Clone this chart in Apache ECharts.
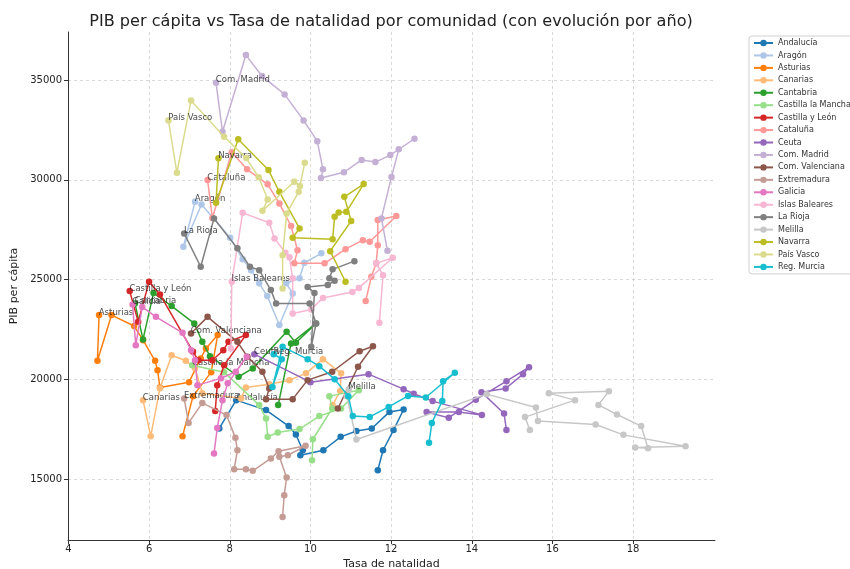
<!DOCTYPE html>
<html>
<head>
<meta charset="utf-8">
<script src="https://cdn.jsdelivr.net/npm/echarts@6/dist/echarts.min.js"></script>
<style>html,body{margin:0;padding:0;background:#fff}#c{width:850px;height:569px}</style>
</head>
<body>
<div id="c"></div>
<script>
const categories = ["Andalucía","Aragón","Asturias","Canarias","Cantabria","Castilla la Mancha","Castilla y León","Cataluña","Ceuta","Com. Madrid","Com. Valenciana","Extremadura","Galicia","Islas Baleares","La Rioja","Melilla","Navarra","País Vasco","Reg. Murcia"];

// [tasa de natalidad, PIB per cápita]
const andalucia = [[7.74,17550],[8.16,18970],[8.90,18470],[9.46,17670],[9.64,17250],[9.81,16460],[9.75,16210],[10.32,16460],[10.75,17130],[11.14,17420],[11.52,17550],[11.96,18380],[12.31,18500],[12.06,17470],[11.80,16460],[11.67,15460]];
const aragon = [[7.14,28900],[6.85,26650],[7.30,28770],[8.01,27100],[8.32,26020],[8.53,25480],[8.73,24820],[8.93,24180],[9.23,22730],[9.56,24310],[9.40,24820],[9.73,25070],[9.85,25850],[10.27,26320]];
const asturias = [[4.76,23230],[4.72,20940],[5.07,23230],[5.63,22680],[5.85,21970],[6.15,20940],[6.21,20470],[6.27,19600],[6.99,19870],[7.28,21060],[7.41,21560],[7.70,22230],[7.54,20370],[7.09,19170],[6.83,17160]];
const canarias = [[5.85,18970],[6.04,17160],[6.27,19570],[6.56,21220],[6.91,20940],[7.14,20570],[7.32,19320],[8.28,19050],[8.40,19600],[8.98,19770],[9.48,19970],[9.89,20310],[10.31,21020],[10.76,20310],[10.74,19430],[10.55,18720]];
const cantabria = [[5.65,23810],[5.85,22010],[6.11,24340],[6.56,23680],[7.12,22810],[7.32,21890],[7.51,21170],[8.22,20140],[8.57,20560],[9.41,22390],[9.64,21840],[10.14,22810],[9.52,21810],[9.20,18720]];
const castillaLaMancha = [[7.07,20720],[7.86,20370],[8.73,18720],[8.90,18050],[8.94,17130],[9.19,17350],[9.73,17520],[10.22,18170],[10.76,18550],[11.20,19470],[10.47,19170],[10.54,18550],[10.06,17010],[10.04,15960]];
const castillaYLeon = [[5.52,24430],[5.73,22890],[6.00,24900],[6.27,24260],[7.09,21390],[7.22,20970],[7.57,20970],[7.84,21470],[7.97,21890],[8.40,22230],[7.86,20720],[7.69,19720],[7.64,18420]];
const cataluna = [[7.45,29990],[7.57,28090],[8.05,31380],[8.43,30530],[8.94,29780],[9.23,28820],[9.52,27690],[9.68,26480],[9.60,25820],[10.35,25820],[10.87,26530],[11.30,26980],[11.47,26900],[12.13,28190],[11.67,27990],[11.67,26730],[11.63,25820],[11.51,25150],[11.37,23930]];
const ceuta = [[8.61,21270],[10.00,19870],[11.44,20270],[12.31,19520],[12.56,19290],[13.03,18920],[14.25,18230],[13.68,18380],[12.88,18370],[13.43,18090],[14.10,18990],[14.86,19920],[15.42,20620],[15.27,20270],[14.84,19550],[14.24,19370],[14.80,18300],[14.86,17470]];
const madrid = [[7.66,34870],[7.82,32410],[8.40,36250],[8.80,35200],[9.36,34280],[9.83,32980],[10.17,31940],[10.31,30530],[10.26,30090],[10.83,30380],[11.27,31000],[11.61,30890],[11.98,31240],[12.58,32060],[12.19,31530],[12.01,30150],[11.76,28070],[11.91,26450]];
const valenciana = [[7.04,22310],[7.45,23140],[8.19,21890],[8.44,21140],[8.81,20390],[8.98,19550],[8.90,19020],[9.56,19020],[9.93,19970],[10.54,20390],[11.22,21420],[11.55,21670],[11.18,20640],[10.68,18550]];
const extremadura = [[6.87,19050],[6.98,17830],[7.32,18830],[7.92,18220],[8.14,17080],[8.19,16460],[8.11,15510],[8.40,15510],[8.57,15430],[9.02,16050],[9.21,16410],[9.88,16680],[9.44,16210],[9.23,16130],[9.41,15100],[9.35,14210],[9.31,13120]];
const galicia = [[5.59,23760],[5.67,21720],[5.83,23640],[6.17,23140],[6.83,22340],[7.04,21470],[7.14,20970],[7.20,19720],[7.78,20060],[8.15,20390],[8.42,21140],[7.95,19810],[7.82,18970],[7.69,17570],[7.61,16300]];
const baleares = [[8.03,21560],[8.05,24900],[8.32,28350],[8.98,27850],[9.11,27070],[9.38,26350],[9.48,26120],[9.56,25070],[9.56,23310],[10.02,23510],[10.31,24090],[11.04,24390],[11.20,24590],[12.04,26100],[11.63,25820],[11.80,25230],[11.71,22840]];
const laRioja = [[6.87,27320],[7.28,25650],[7.61,28070],[8.19,26570],[8.50,25650],[8.73,25480],[9.02,24480],[9.15,23810],[9.98,23810],[10.14,22810],[10.02,21640],[10.10,24340],[9.93,24640],[10.43,24730],[10.60,24950],[10.47,25070],[10.55,25520],[11.09,25930]];
const melilla = [[10.95,19500],[10.90,19170],[11.14,17000],[14.37,19270],[15.59,18600],[15.64,17920],[17.07,17750],[17.76,17230],[19.30,16660],[18.05,16600],[18.37,16560],[18.20,17670],[17.60,18250],[17.14,18730],[17.40,19420],[15.91,19320],[16.56,18970],[15.32,18120],[15.44,17470]];
const navarra = [[7.72,31080],[7.66,28850],[8.21,32030],[8.96,30490],[9.23,29400],[9.73,27570],[9.56,27100],[10.55,27030],[10.60,28150],[10.70,28370],[10.89,28400],[11.32,29790],[10.84,29150],[11.01,27940],[10.49,26430],[10.87,24900]];
const paisVasco = [[6.48,32980],[6.69,30360],[7.04,33980],[7.86,32160],[8.41,31090],[8.72,30130],[8.94,29020],[8.81,28450],[9.60,29910],[9.74,29690],[9.86,30860],[9.71,29400],[9.41,28320],[9.31,26230],[9.31,24560]];
const murcia = [[9.09,21270],[9.29,21020],[9.06,19630],[9.31,21640],[9.93,21020],[10.22,20670],[10.60,20020],[10.94,19170],[11.05,18170],[11.47,18130],[11.94,18630],[12.42,19180],[12.86,19100],[13.58,20340],[13.29,19920],[13.27,18930],[13.01,17830],[12.94,16830]];

const seriesData = [andalucia, aragon, asturias, canarias, cantabria, castillaLaMancha, castillaYLeon, cataluna, ceuta, madrid, valenciana, extremadura, galicia, baleares, laRioja, melilla, navarra, paisVasco, murcia];
// index of the point carrying the region's name
const labelIndex = [1,0,0,0,0,0,0,0,0,0,0,0,0,1,0,0,0,0,0];

const xTicks = [4, 6, 8, 10, 12, 14, 16, 18];
const yTicks = [15000, 20000, 25000, 30000, 35000];

const palette = ['#1f77b4','#aec7e8','#ff7f0e','#ffbb78','#2ca02c','#98df8a','#d62728','#ff9896','#9467bd','#c5b0d5','#8c564b','#c49c94','#e377c2','#f7b6d2','#7f7f7f','#c7c7c7','#bcbd22','#dbdb8d','#17becf'];

const FONT = 'DejaVu Sans';

const series = categories.map((name, i) => ({
  name: name,
  type: 'line',
  data: seriesData[i].map((p, j) => j === labelIndex[i] ? {
    value: p,
    label: {
      show: true, formatter: name, position: [3, 3], align: 'left', verticalAlign: 'bottom',
      offset: [0, 2], fontFamily: FONT, fontSize: 8.5, color: 'rgba(40,40,40,0.85)'
    }
  } : p),
  symbol: 'circle',
  symbolSize: 6.5,
  showSymbol: true,
  color: palette[i],
  lineStyle: { width: 1.5, color: palette[i] },
  itemStyle: { color: palette[i] },
  emphasis: { disabled: true },
  z: 2 + i * 0.01
}));

const chart = echarts.init(document.getElementById('c'), null, { renderer: 'canvas' });
chart.setOption({
  animation: false,
  backgroundColor: '#fff',
  title: {
    text: 'PIB per cápita vs Tasa de natalidad por comunidad (con evolución por año)',
    left: 386, textAlign: 'center', top: 9,
    textStyle: { fontFamily: FONT, fontSize: 16.1, fontWeight: 'normal', color: '#222' }
  },
  legend: {
    orient: 'vertical', left: 749, top: 36,
    padding: [3, 6, 3, 4],
    itemWidth: 19, itemHeight: 8, itemGap: 4.44,
    backgroundColor: '#fff', borderColor: '#d0d0d0', borderWidth: 1, borderRadius: 3,
    textStyle: { fontFamily: FONT, fontSize: 8, color: '#333' },
    data: categories
  },
  grid: { left: 68, right: 135, top: 32, bottom: 29, containLabel: false, outerBoundsMode: 'none' },
  xAxis: {
    type: 'value', min: 3.99, max: 20.03,
    name: 'Tasa de natalidad', nameLocation: 'middle', nameGap: 19,
    nameTextStyle: { fontFamily: FONT, fontSize: 11, color: '#222' },
    axisLine: { show: true, lineStyle: { color: '#333', width: 1 } },
    axisTick: { show: true, length: 4, customValues: xTicks, lineStyle: { color: '#333' } },
    axisLabel: { customValues: xTicks, fontFamily: FONT, fontSize: 10, color: '#222', margin: 4,
      formatter: v => String(v) },
    splitLine: { show: true, lineStyle: { color: '#cfcfcf', type: [3, 3], width: 0.8 } }
  },
  yAxis: {
    type: 'value', min: 11965, max: 37406,
    name: 'PIB per cápita', nameLocation: 'middle', nameGap: 44,
    nameTextStyle: { fontFamily: FONT, fontSize: 11, color: '#222' },
    axisLine: { show: true, lineStyle: { color: '#333', width: 1 } },
    axisTick: { show: true, length: 4, customValues: yTicks, lineStyle: { color: '#333' } },
    axisLabel: { customValues: yTicks, fontFamily: FONT, fontSize: 10, color: '#222', margin: 6,
      formatter: v => String(v) },
    splitLine: { show: true, lineStyle: { color: '#cfcfcf', type: [3, 3], width: 0.8 } }
  },
  series: series
});
</script>
</body>
</html>
